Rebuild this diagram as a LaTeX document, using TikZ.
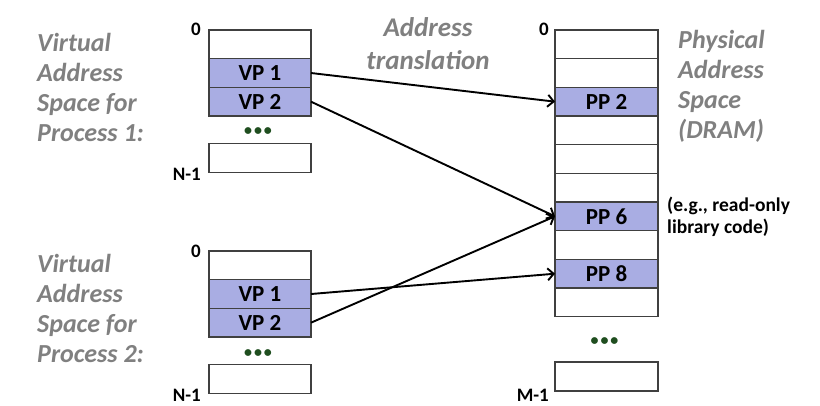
\documentclass[tikz,border=0pt]{standalone}
\usepackage{fontspec}
\setmainfont{Carlito}
\usetikzlibrary{arrows.meta, positioning}
\usepackage{xcolor}
\definecolor{pagefill}{HTML}{A9ADE3}
\definecolor{labelgray}{HTML}{808080}
\definecolor{dotgreen}{HTML}{1F4E1F}
\definecolor{cellline}{HTML}{404040}

\tikzset{
  cell/.style={draw=cellline, line width=1.5pt, fill=white,
               minimum width=102pt, minimum height=28.67pt,
               inner sep=0pt, outer sep=0pt,
               font=\fontsize{23}{23}\selectfont\bfseries},
  page/.style={cell, fill=pagefill},
  spacelabel/.style={text=labelgray, align=left, anchor=north west, inner sep=0pt,
                     font=\fontsize{26}{30}\selectfont\bfseries\itshape},
  idx/.style={anchor=base east, inner sep=0pt,
              font=\fontsize{19}{19}\selectfont\bfseries},
  more/.style={text=dotgreen, anchor=base, inner sep=0pt,
               font=\fontsize{16}{16}\selectfont\bfseries},
  map/.style={line width=1.9pt,
              -{Straight Barb[length=6pt, width=12pt, line width=1.9pt]}},
}
\newcommand{\moredots}{\textbullet\kern2pt\textbullet\kern2pt\textbullet}

\begin{document}
\begin{tikzpicture}[x=1pt, y=-1pt]
  \useasboundingbox (0,0) rectangle (820,405);

  % virtual address space, process 1
  \node[cell] (p1top) at (260,44.33) {};
  \node[page, below=0pt of p1top] (p1vp1) {VP 1};
  \node[page, below=0pt of p1vp1] (p1vp2) {VP 2};
  \node[more] (p1more) at (258,135) {\moredots};
  \node[cell] (p1last) at (260,158) {};
  \node[idx] (p1zero) at (201,35) {0};
  \node[idx] (p1end) at (201,180) {N-1};
  \node[spacelabel] (p1label) at (37,33) {Virtual\\Address\\Space for\\Process 1:};

  % virtual address space, process 2
  \node[cell] (p2top) at (260,265.33) {};
  \node[page, below=0pt of p2top] (p2vp1) {VP 1};
  \node[page, below=0pt of p2vp1] (p2vp2) {VP 2};
  \node[more] (p2more) at (258,357) {\moredots};
  \node[cell] (p2last) at (260,379) {};
  \node[idx] (p2zero) at (201,257) {0};
  \node[idx] (p2end) at (201,401) {N-1};
  \node[spacelabel] (p2label) at (37,254) {Virtual\\Address\\Space for\\Process 2:};

  % physical address space
  \node[cell, minimum width=103pt] (phys0) at (606.5,44.33) {};
  \node[cell, minimum width=103pt, below=0pt of phys0] (phys1) {};
  \node[page, minimum width=103pt, below=0pt of phys1] (phys2) {PP 2};
  \node[cell, minimum width=103pt, below=0pt of phys2] (phys3) {};
  \node[cell, minimum width=103pt, below=0pt of phys3] (phys4) {};
  \node[cell, minimum width=103pt, below=0pt of phys4] (phys5) {};
  \node[page, minimum width=103pt, below=0pt of phys5] (phys6) {PP 6};
  \node[cell, minimum width=103pt, below=0pt of phys6] (phys7) {};
  \node[page, minimum width=103pt, below=0pt of phys7] (phys8) {PP 8};
  \node[cell, minimum width=103pt, below=0pt of phys8] (phys9) {};
  \node[more] (physmore) at (604.5,345.5) {\moredots};
  \node[cell, minimum width=103pt] (physlast) at (606.5,376.5) {};
  \node[idx] (physzero) at (549,35) {0};
  \node[idx] (physend) at (549,401) {M-1};
  \node[spacelabel] (physlabel) at (678,30) {Physical\\Address\\Space\\(DRAM)};
  \node[anchor=north west, align=left, inner sep=0pt,
        font=\fontsize{19.5}{22}\selectfont\bfseries] (shared) at (667,197)
        {(e.g., read-only\\library code)};

  \node[text=labelgray, align=center, anchor=north, inner sep=0pt,
        font=\fontsize{27}{33}\selectfont\bfseries\itshape] (xlate) at (428,17)
        {Address\\translation};

  % page mappings
  \draw[map] (p1vp1.east) -- (phys2.west);
  \draw[map] (p1vp2.east) -- (phys6.west);
  \draw[map] (p2vp1.east) -- (phys8.west);
  \draw[map] (p2vp2.east) -- (phys6.west);
\end{tikzpicture}
\end{document}
